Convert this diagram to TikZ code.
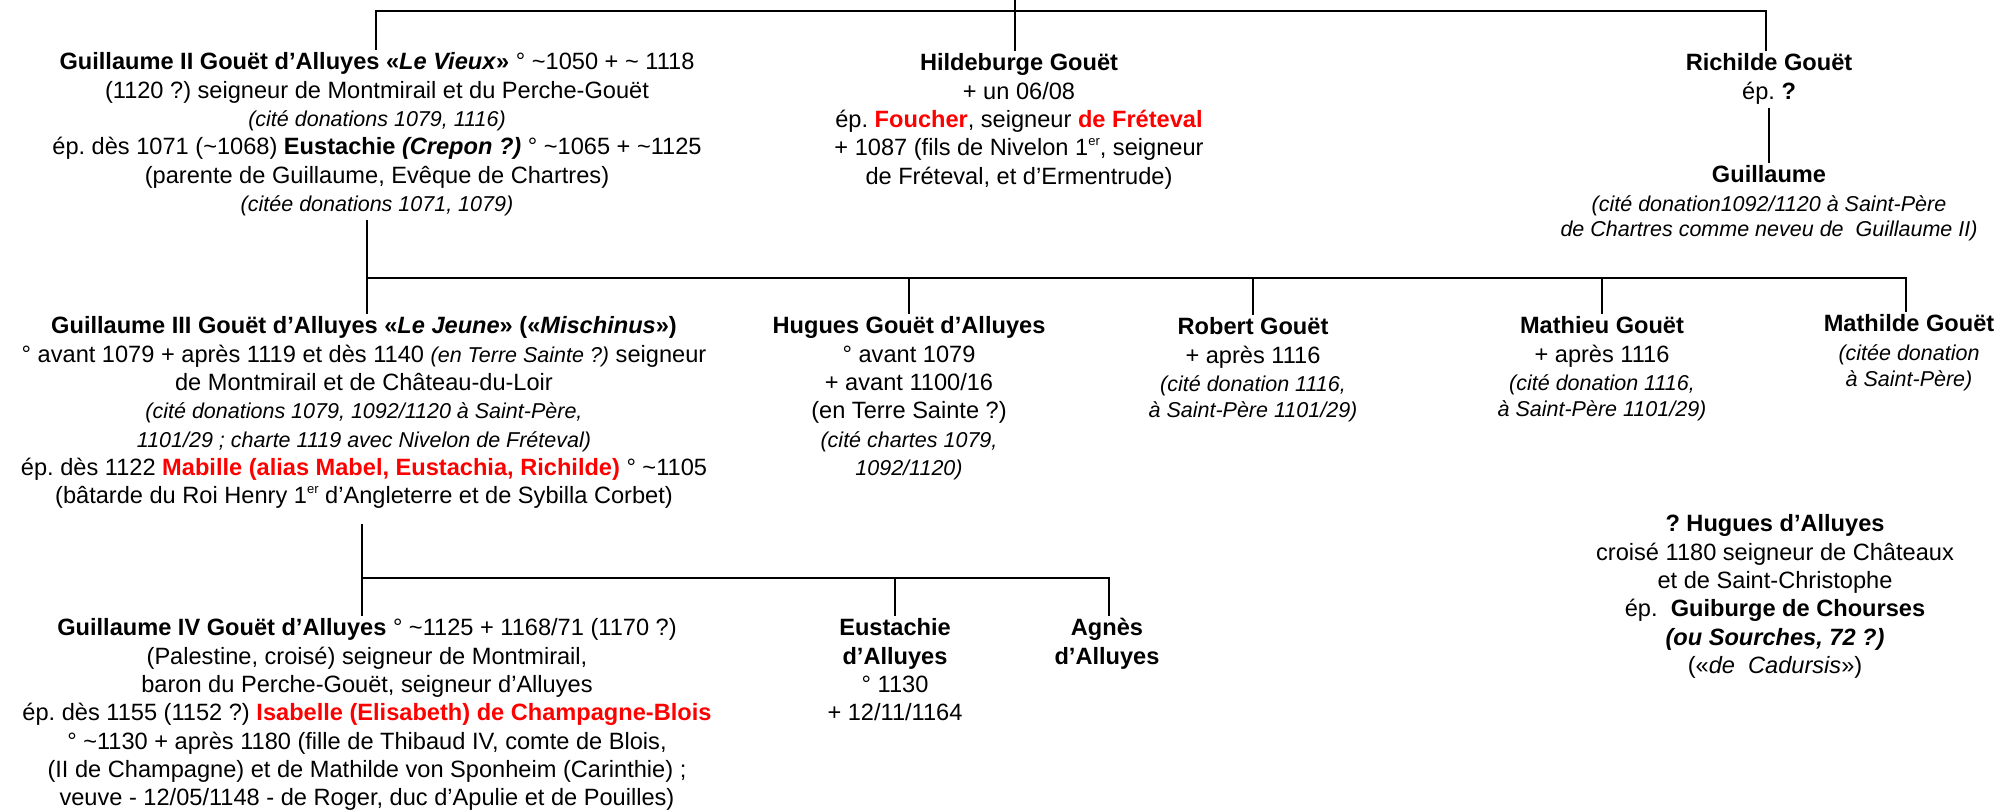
\documentclass[tikz,border=0pt]{standalone}
\usepackage{fontspec}
\setmainfont{Liberation Sans}
\frenchspacing
\newcommand{\tld}{\textasciitilde}
\newcommand{\sm}[1]{{\fontsize{10.75pt}{14.15pt}\selectfont\itshape #1}}
\newcommand{\rd}[1]{\textcolor{red}{\textbf{#1}}}
\newcommand{\ers}{\raisebox{0.8ex}{\fontsize{6.5pt}{6.5pt}\selectfont er}}
\tikzset{
  person/.style={anchor=north, align=center, inner sep=0pt, font=\fontsize{11.8pt}{14.15pt}\selectfont},
  link/.style={draw=black, line width=1.3pt}
}
\begin{document}
\begin{tikzpicture}[x=0.5pt, y=-0.5pt]
\useasboundingbox (0,0) rectangle (2000,810);

% generation 1
\node[person] (g2) at (377,49.7) {\strut\textbf{Guillaume II Gouët d’Alluyes «\textit{Le Vieux}»} ° \tld1050 + \tld{} 1118\\
(1120 ?) seigneur de Montmirail et du Perche-Gouët\\
\sm{(cité donations 1079, 1116)}\\
ép. dès 1071 (\tld1068) \textbf{Eustachie \textit{(Crepon ?)}} ° \tld1065 + \tld1125\\
(parente de Guillaume, Evêque de Chartres)\\
\sm{(citée donations 1071, 1079)}\strut};

\node[person] (hb) at (1019,50.7) {\strut\textbf{Hildeburge Gouët}\\
+ un 06/08\\
ép. \rd{Foucher}, seigneur \rd{de Fréteval}\\
+ 1087 (fils de Nivelon 1\ers, seigneur\\
de Fréteval, et d’Ermentrude)\strut};

\node[person] (rc) at (1769,50.7) {\strut\textbf{Richilde Gouët}\\
ép. \textbf{?}\strut};

\node[person] (gr) at (1769,162.7) {\strut\textbf{Guillaume}\\
\sm{(cité donation1092/1120 à Saint-Père}\\[-1.5pt]
\sm{de Chartres comme neveu de\ \ Guillaume II)}\strut};

% generation 2
\node[person] (g3) at (364,313.7) {\strut\textbf{Guillaume III Gouët d’Alluyes «\textit{Le Jeune}» («\textit{Mischinus}»)}\\
° avant 1079 + après 1119 et dès 1140 \sm{(en Terre Sainte ?)} seigneur\\
de Montmirail et de Château-du-Loir\\
\sm{(cité donations 1079, 1092/1120 à Saint-Père,}\\
\sm{1101/29 ; charte 1119 avec Nivelon de Fréteval)}\\
ép. dès 1122 \rd{Mabille (alias Mabel, Eustachia, Richilde)} ° \tld1105\\
(bâtarde du Roi Henry 1\ers\ d’Angleterre et de Sybilla Corbet)\strut};

\node[person] (hu) at (909,313.7) {\strut\textbf{Hugues Gouët d’Alluyes}\\
° avant 1079\\
+ avant 1100/16\\
(en Terre Sainte ?)\\
\sm{(cité chartes 1079,}\\
\sm{1092/1120)}\strut};

\node[person] (rb) at (1253,314.7) {\strut\textbf{Robert Gouët}\\
+ après 1116\\
\sm{(cité donation 1116,}\\[-1pt]
\sm{à Saint-Père 1101/29)}\strut};

\node[person] (mt) at (1602,313.7) {\strut\textbf{Mathieu Gouët}\\
+ après 1116\\
\sm{(cité donation 1116,}\\[-1pt]
\sm{à Saint-Père 1101/29)}\strut};

\node[person] (ml) at (1909,311.7) {\strut\textbf{Mathilde Gouët}\\
\sm{(citée donation}\\[-1pt]
\sm{à Saint-Père)}\strut};

\node[person] (hq) at (1775,511.7) {\strut\textbf{? Hugues d’Alluyes}\\
croisé 1180 seigneur de Châteaux\\
et de Saint-Christophe\\
ép.\ \ \textbf{Guiburge de Chourses}\\
\textbf{\textit{(ou Sourches, 72 ?)}}\\
(«\textit{de\ \ Cadursis}»)\strut};

% generation 3
\node[person] (g4) at (367,615.7) {\strut\textbf{Guillaume IV Gouët d’Alluyes} ° \tld1125 + 1168/71 (1170 ?)\\
(Palestine, croisé) seigneur de Montmirail,\\
baron du Perche-Gouët, seigneur d’Alluyes\\
ép. dès 1155 (1152 ?) \rd{Isabelle (Elisabeth) de Champagne-Blois}\\
° \tld1130 + après 1180 (fille de Thibaud IV, comte de Blois,\\
(II de Champagne) et de Mathilde von Sponheim (Carinthie) ;\\
veuve - 12/05/1148 - de Roger, duc d’Apulie et de Pouilles)\strut};

\node[person] (eu) at (895,615.7) {\strut\textbf{Eustachie}\\
\textbf{d’Alluyes}\\
° 1130\\
+ 12/11/1164\strut};

\node[person] (ag) at (1107,615.7) {\strut\textbf{Agnès}\\
\textbf{d’Alluyes}\strut};

% connectors
\coordinate (top) at (1015,0);
\coordinate (b1w) at (376,11);
\coordinate (b1e) at (1766,11);
\coordinate (b2w) at (367,278);
\coordinate (b2e) at (1906,278);
\coordinate (b3w) at (362,578);
\coordinate (b3e) at (1109,578);

\draw[link] (g2.north -| b1w) -- (b1w) -- (b1e) -- (rc.north -| b1e);
\draw[link] (top) -- (hb.north -| top);
\draw[link] (rc.south) -- (gr.north);

\draw[link] (g2.south -| b2w) -- (g3.north -| b2w);
\draw[link] (b2w) -- (b2e) -- (ml.north -| b2e);
\draw[link] (hu.north |- b2w) -- (hu.north);
\draw[link] (rb.north |- b2w) -- (rb.north);
\draw[link] (mt.north |- b2w) -- (mt.north);

\draw[link, shorten <=5.5pt] (g3.south -| b3w) -- (g4.north -| b3w);
\draw[link] (b3w) -- (b3e) -- (ag.north -| b3e);
\draw[link] (eu.north |- b3w) -- (eu.north);
\end{tikzpicture}
\end{document}
